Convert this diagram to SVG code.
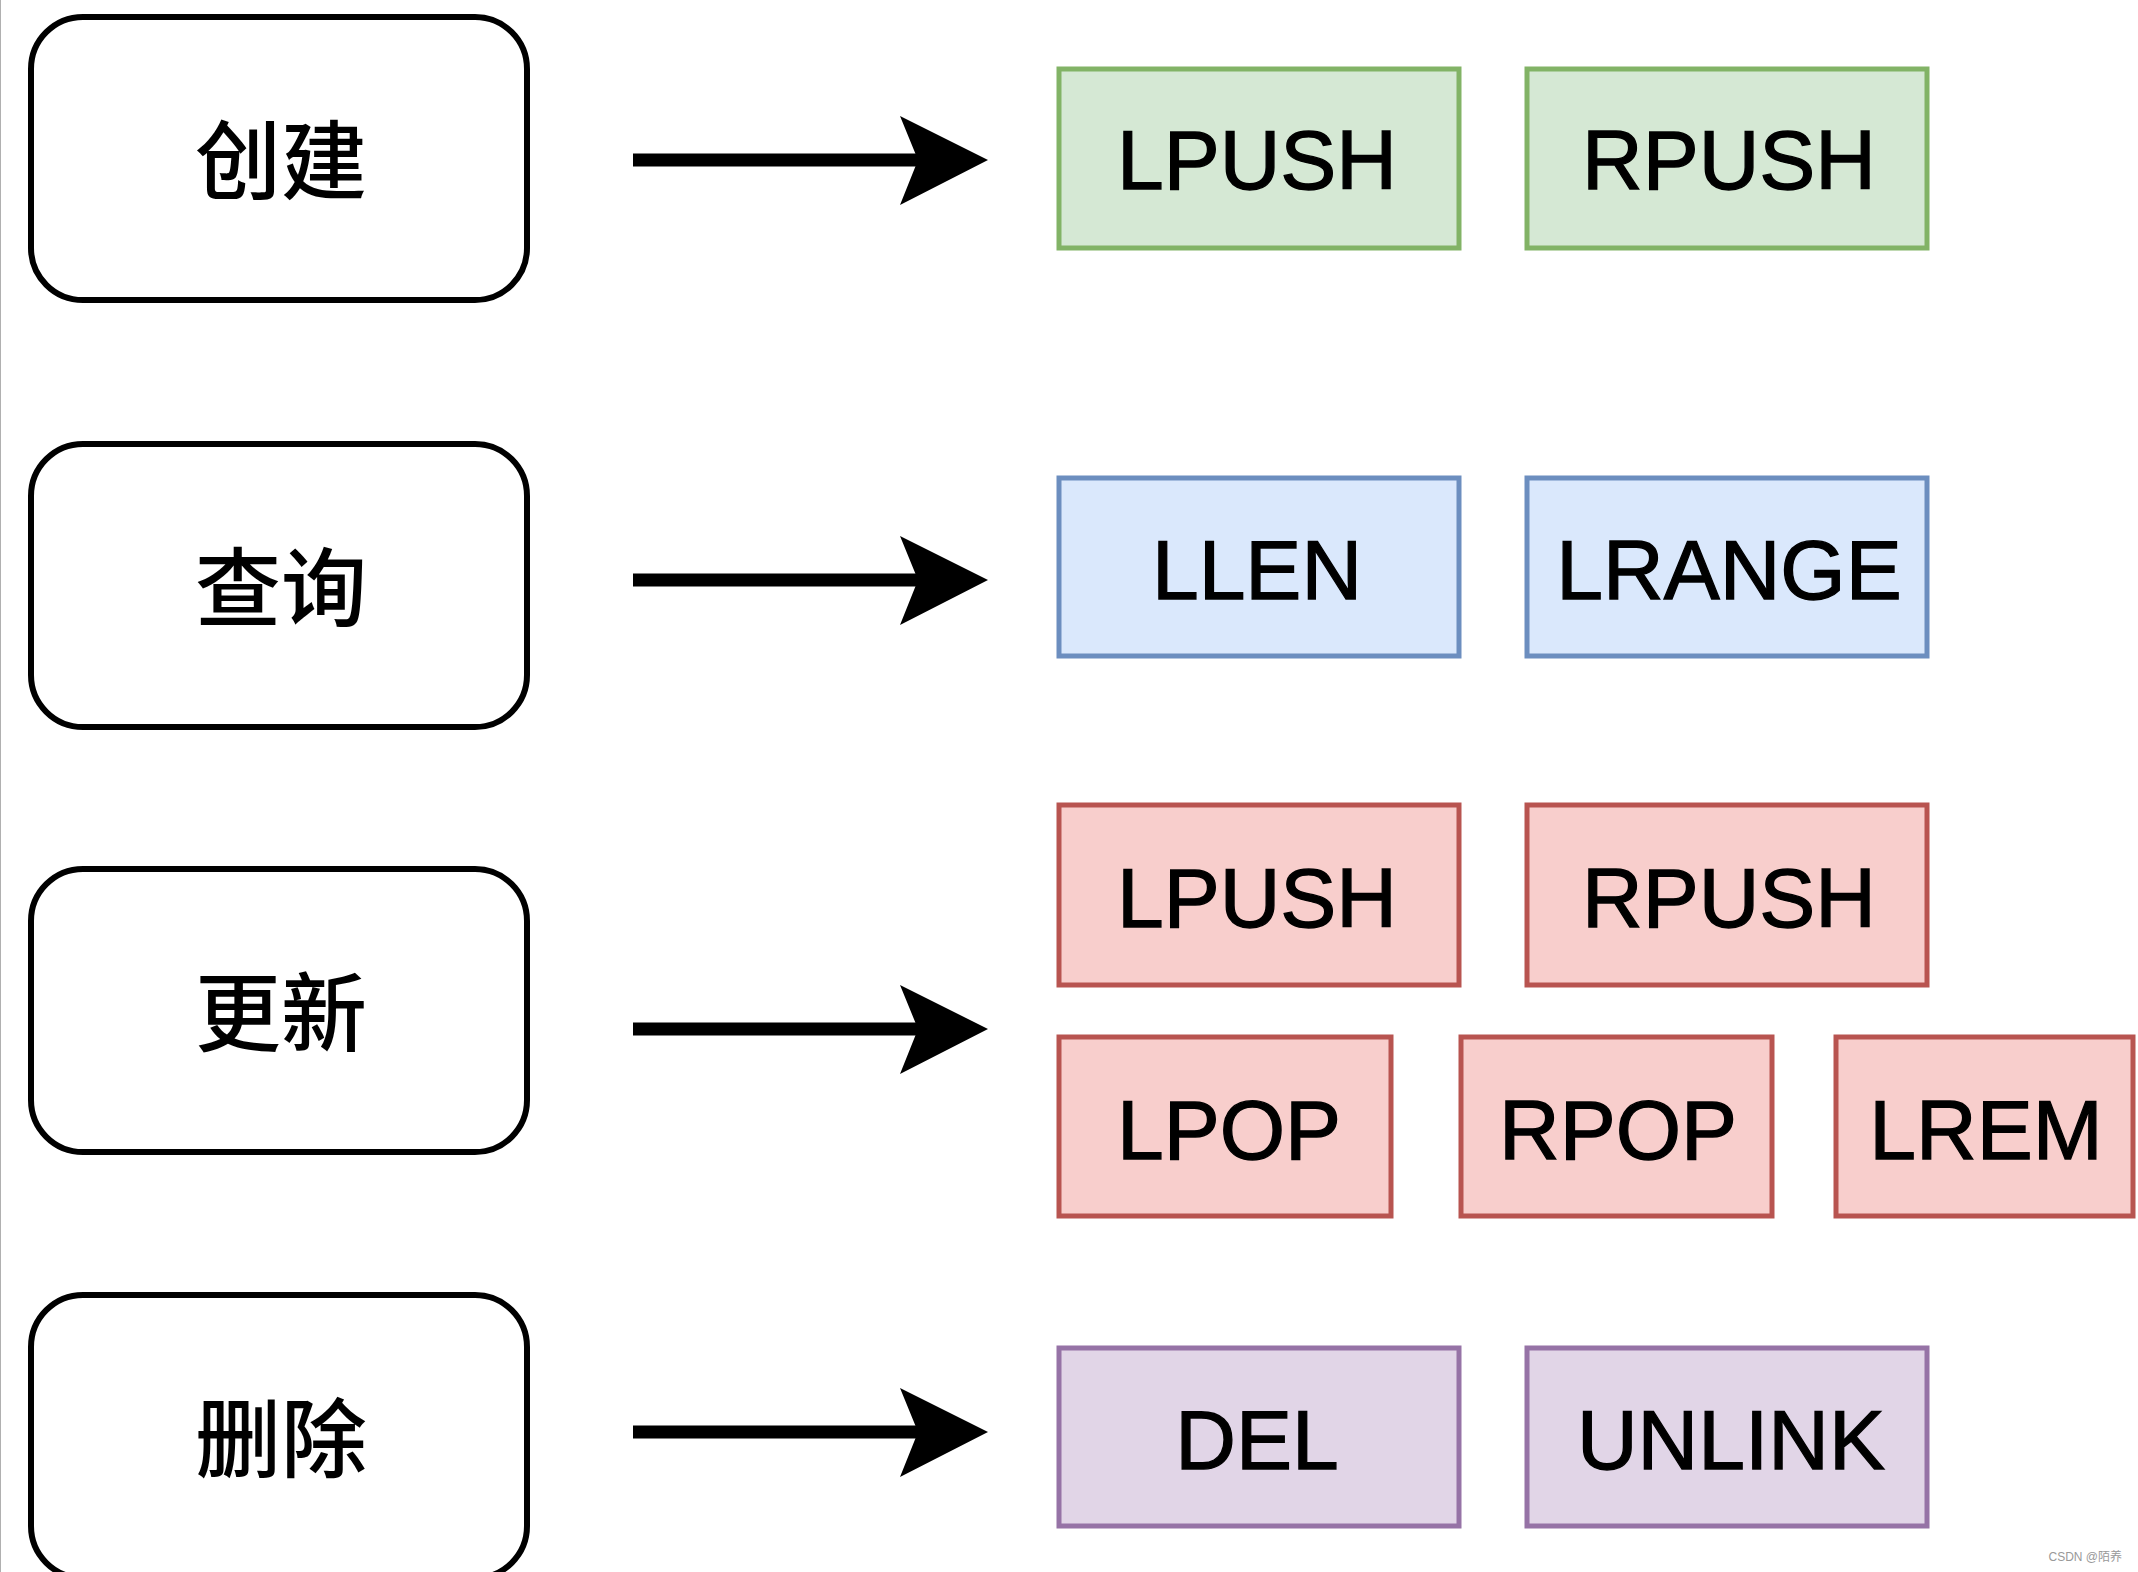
<svg xmlns="http://www.w3.org/2000/svg" width="2138" height="1572" viewBox="0 0 2138 1572">
<style>
.cat rect{fill:#fff;stroke:#000;stroke-width:6}
.cat text{font-family:"Noto Sans CJK SC","Liberation Sans",sans-serif;font-size:86px;font-weight:500;text-anchor:middle;fill:#000}
.cmd text{font-family:"Liberation Sans",Arial,sans-serif;font-size:84px;text-anchor:middle;fill:#000;stroke:#000;stroke-width:1.3}
.cmd rect{stroke-width:5}
.g rect{fill:#d5e8d4;stroke:#82b366}
.b rect{fill:#dae8fc;stroke:#6c8ebf}
.r rect{fill:#f8cecc;stroke:#b85450}
.p rect{fill:#e1d5e7;stroke:#9673a6}
.conn line{stroke:#000;stroke-width:13}
</style>
<defs>
<path id="ah" d="M0,0 L-88,-44 L-70,0 L-88,45 Z" fill="#000"/>
</defs>
<rect x="0" y="0" width="2138" height="1572" fill="#fff"/>
<line x1="0.5" y1="0" x2="0.5" y2="1572" stroke="#b0b0b0" stroke-width="1"/>

<g id="cat-create" class="cat"><rect x="31" y="17" width="496" height="283" rx="52"/><text x="281" y="193">创建</text></g>
<g id="cat-query" class="cat"><rect x="31" y="444" width="496" height="283" rx="52"/><text x="281" y="620">查询</text></g>
<g id="cat-update" class="cat"><rect x="31" y="869" width="496" height="283" rx="52"/><text x="281" y="1045">更新</text></g>
<g id="cat-delete" class="cat"><rect x="31" y="1295" width="496" height="283" rx="52"/><text x="281" y="1471">删除</text></g>

<g id="connectors" class="conn">
<line x1="633" y1="160" x2="925" y2="160"/><use href="#ah" transform="translate(988,160)"/>
<line x1="633" y1="580" x2="925" y2="580"/><use href="#ah" transform="translate(988,580)"/>
<line x1="633" y1="1029" x2="925" y2="1029"/><use href="#ah" transform="translate(988,1029)"/>
<line x1="633" y1="1432" x2="925" y2="1432"/><use href="#ah" transform="translate(988,1432)"/>
</g>

<g id="n-lpush1" class="cmd g"><rect x="1059" y="69" width="400" height="179"/><text x="1257" y="189">LPUSH</text></g>
<g id="n-rpush1" class="cmd g"><rect x="1527" y="69" width="400" height="179"/><text x="1729" y="189">RPUSH</text></g>

<g id="n-llen" class="cmd b"><rect x="1059" y="478" width="400" height="178"/><text x="1257" y="599">LLEN</text></g>
<g id="n-lrange" class="cmd b"><rect x="1527" y="478" width="400" height="178"/><text x="1729" y="599">LRANGE</text></g>

<g id="n-lpush2" class="cmd r"><rect x="1059" y="805" width="400" height="180"/><text x="1257" y="927">LPUSH</text></g>
<g id="n-rpush2" class="cmd r"><rect x="1527" y="805" width="400" height="180"/><text x="1729" y="927">RPUSH</text></g>
<g id="n-lpop" class="cmd r"><rect x="1059" y="1037" width="332" height="179"/><text x="1229" y="1159">LPOP</text></g>
<g id="n-rpop" class="cmd r"><rect x="1461" y="1037" width="311" height="179"/><text x="1618" y="1159">RPOP</text></g>
<g id="n-lrem" class="cmd r"><rect x="1836" y="1037" width="297" height="179"/><text x="1986" y="1159">LREM</text></g>

<g id="n-del" class="cmd p"><rect x="1059" y="1348" width="400" height="178"/><text x="1257" y="1469">DEL</text></g>
<g id="n-unlink" class="cmd p"><rect x="1527" y="1348" width="400" height="178"/><text x="1731" y="1469">UNLINK</text></g>

<text x="2122" y="1561" font-family="'Liberation Sans','Noto Sans CJK SC',sans-serif" font-size="12" fill="#999" text-anchor="end">CSDN @陌养</text>
</svg>
